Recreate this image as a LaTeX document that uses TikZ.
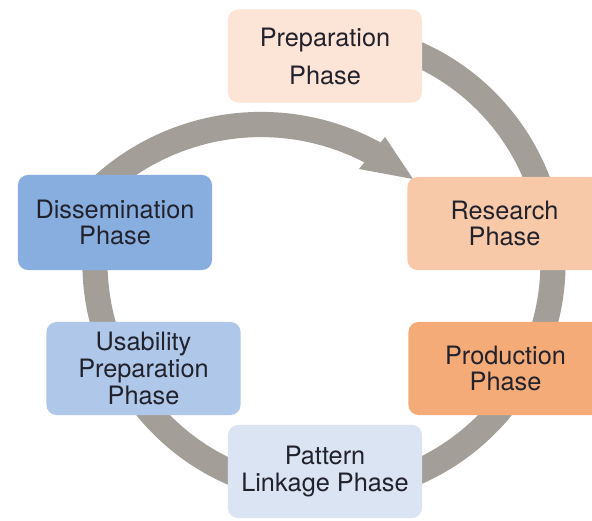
\documentclass[tikz,border=0pt]{standalone}
\usepackage{fontspec}
\setmainfont{TeX Gyre Heros}
\definecolor{ringgray}{HTML}{A39F98}
\definecolor{txt}{HTML}{22222C}
\definecolor{prepfill}{HTML}{FCE4D6}
\definecolor{researchfill}{HTML}{F8C9A8}
\definecolor{productionfill}{HTML}{F4AB78}
\definecolor{patternfill}{HTML}{DAE4F3}
\definecolor{usabilityfill}{HTML}{AFC8EA}
\definecolor{dissemfill}{HTML}{88AEDF}
\begin{document}
% one unit = one pixel of a 592 x 520 canvas, y pointing down
\begin{tikzpicture}[x=0.025cm, y=-0.025cm,
  phasebox/.style={rounded corners=0.25cm, minimum width=4.85cm,
    minimum height=2.325cm, inner sep=0pt, align=center, text=txt,
    font=\fontsize{18}{19}\selectfont},
  band/.style={draw=ringgray, line width=0.63cm}]
\clip (0,0) rectangle (592,520);
\fill[white] (0,0) rectangle (592,520);

% the cycle ring, running behind the phase boxes
\coordinate (ringc) at (324,263);
\draw[band] (ringc) ++(195:229) arc[start angle=195, end angle=-100, radius=229];

% the curved arrow from the dissemination phase back to research
\coordinate (arrowc) at (261,361);
\draw[band] (arrowc) ++(223:236.5) arc[start angle=223, end angle=300, radius=236.5];
\coordinate (barbout) at (385,137);
\coordinate (barbin) at (359,169);
\coordinate (tip) at (413,179);
\fill[ringgray] (barbout) -- (tip) -- (barbin) -- cycle;

% phase boxes
\node[phasebox, fill=prepfill, font=\fontsize{18}{27}\selectfont] (prep) at (325,56) {Preparation\\Phase};
\node[phasebox, fill=researchfill] (research) at (504.5,223.5) {Research\\Phase};
\node[phasebox, fill=productionfill] (production) at (505.5,368.5) {Production\\Phase};
\node[phasebox, fill=patternfill] (pattern) at (325,471.5) {Pattern\\Linkage Phase};
\node[phasebox, fill=usabilityfill] (usability) at (143.5,368.5) {Usability\\Preparation\\Phase};
\node[phasebox, fill=dissemfill, minimum height=2.375cm] (dissem) at (115,222.5) {Dissemination\\Phase};
\end{tikzpicture}
\end{document}
